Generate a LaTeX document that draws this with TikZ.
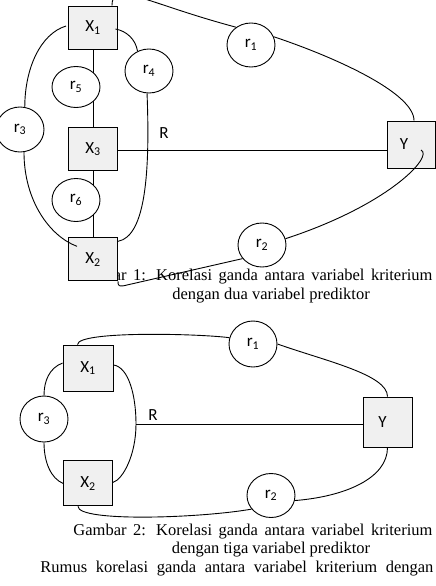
\documentclass[tikz,border=0pt]{standalone}
\usepackage{fontspec}
\newfontfamily\lblfont{Carlito}
\newfontfamily\capfont{Liberation Serif}
\usetikzlibrary{shapes.geometric,positioning}
\newcommand{\lblsize}{\lblfont\fontsize{17}{20}\selectfont}
\newcommand{\capsize}{\capfont\fontsize{16.5}{19}\selectfont}

\begin{document}
\begin{tikzpicture}[x=1pt, y=1pt, line width=0.9pt,
    box/.style={draw, fill=gray!12, minimum width=49pt, minimum height=45pt, inner sep=0pt, font=\lblsize},
    cor/.style={draw, ellipse, fill=white, minimum width=48pt, minimum height=44pt, inner sep=0pt, font=\lblsize},
    captxt/.style={inner sep=0pt, font=\capsize}
]
\useasboundingbox (0,0) rectangle (436,-586);
\clip (0,0) rectangle (436,-586);

\node[captxt, anchor=base west] (c1a) at (73,-280) {\makebox[359pt][s]{Gambar 1: Korelasi ganda antara variabel kriterium}};
\node[captxt, anchor=base] (c1b) at (271,-299) {dengan dua variabel prediktor};
\node[captxt, anchor=base west] (c2a) at (73,-535) {\makebox[359pt][s]{Gambar 2: Korelasi ganda antara variabel kriterium}};
\node[captxt, anchor=base] (c2b) at (271,-553.5) {dengan tiga variabel prediktor};
\node[captxt, anchor=base west] (c2c) at (40,-572) {\makebox[393pt][s]{Rumus korelasi ganda antara variabel kriterium dengan}};

\node[box, minimum height=43pt] (xa1) at (93,-27.5) {X\textsubscript{1}};
\node[box, minimum height=43pt, below=77.5pt of xa1] (xa3) {X\textsubscript{3}};
\node[box, minimum height=43pt, below=66.5pt of xa3] (xa2) {X\textsubscript{2}};
\node[box, minimum width=48pt, minimum height=47pt] (ya) at (411,-144.5) {Y\hspace*{14pt}};
\draw (xa1) -- (xa3) -- (xa2);
\node[cor, minimum height=41pt] (ra5) at (76,-87) {r\textsubscript{5}};
\node[cor, minimum height=43pt] (ra6) at (76,-200) {r\textsubscript{6}};
\node[cor] (ra4) at (149,-71) {r\textsubscript{4}};
\node[cor, minimum height=45pt] (ra3) at (20,-129.5) {r\textsubscript{3}};
\node[cor] (ra1) at (251,-45) {r\textsubscript{1}};
\node[cor] (ra2) at (262,-245) {r\textsubscript{2}};
\node[font=\lblsize] (rla) at (164,-133) {R};
\coordinate (ka) at (127,-285);

\draw ([xshift=-6pt]xa1.north east) .. controls +(0,26) and +(-90,24) .. (ra1.130);
\draw (ra1.20) .. controls +(60,-20) and +(0,28) .. ([xshift=3pt]ya.north);
\draw ([shift={(10pt,-5.5pt)}]ya.center) .. controls +(13,-6) and +(104,34) .. (ra2.15);
\draw (xa2.south east) .. controls +(0,-5) and +(-8,-2) .. (ka) -- (ra2.215);
\draw ([shift={(-2pt,1.5pt)}]xa1.west) .. controls +(-26,-8) and +(0,38) .. (ra3.78);
\draw (ra3.-80) .. controls +(0,-49) and +(-27,10) .. ([shift={(9pt,-9pt)}]xa2.north west);
\draw ([shift={(-2.5pt,-1.5pt)}]xa1.east) .. controls +(11,-2) and +(-2,12) .. (ra4.120);
\draw (ra4.265) .. controls +(3,-77) and +(28,5) .. ([yshift=-4pt]xa2.north east);
\draw ([yshift=-2pt]xa3.east) -- ([yshift=-2pt]xa3.east -| ya.west);

\node[box, minimum width=50pt, minimum height=46pt] (xb1) at (88,-368) {X\textsubscript{1}};
\node[box, below=69pt of xb1] (xb2) {X\textsubscript{2}};
\node[box, minimum height=50pt] (yb) at (387.5,-422) {Y\hspace*{10pt}};
\node[cor, minimum height=46pt] (rb1) at (253,-344) {r\textsubscript{1}};
\node[cor] (rb2) at (271,-495.5) {r\textsubscript{2}};
\node[cor, minimum height=46pt] (rb3) at (44,-419) {r\textsubscript{3}};
\node[font=\lblsize] (rlb) at (153,-415) {R};
\coordinate (mb) at (136,-424);

\draw ([xshift=15pt]xb1.north west) .. controls +(0,14) and +(-30,4) .. (rb1.165);
\draw (rb1.east) .. controls +(48,-17) and +(0,22) .. (yb.north);
\draw (yb.south) .. controls +(0,-31) and +(50,4) .. (rb2.348);
\draw ([xshift=-10pt]xb2.south) .. controls +(0,-16) and +(-51,-9) .. (rb2.215);
\draw ([yshift=5pt]xb1.west) .. controls +(-13,-5) and +(0,15) .. (rb3.north);
\draw (rb3.south) .. controls +(0,-20) and +(-12,5) .. (xb2.west);
\draw ([yshift=3pt]xb1.east) .. controls +(15,-2) and +(0,29) .. (mb) .. controls +(0,-31) and +(10,3) .. ([yshift=1pt]xb2.east);
\draw (mb) -- (mb -| yb.west);
\end{tikzpicture}
\end{document}
